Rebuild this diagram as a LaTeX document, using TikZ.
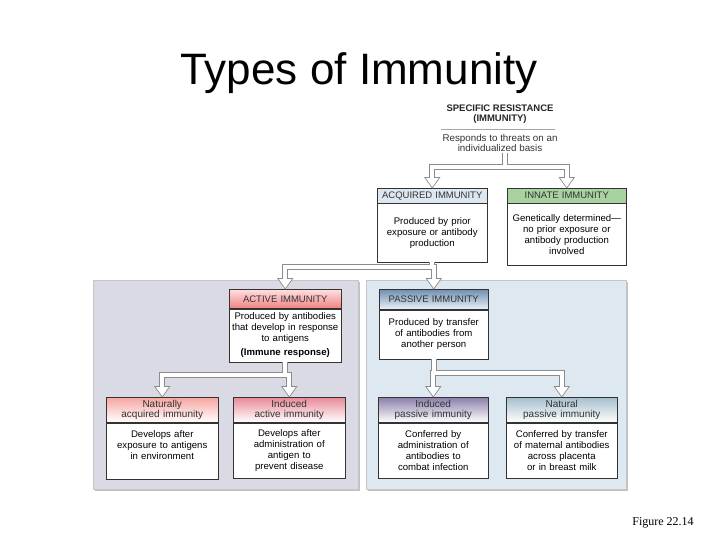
\documentclass[tikz,border=0pt]{standalone}
\usepackage{fontspec}
\setmainfont{Liberation Sans}
\newfontfamily\capfont{Liberation Serif}
\usepackage{tikz}
\usetikzlibrary{positioning,shadows}

\definecolor{acqblue}{RGB}{221,231,240}
\definecolor{inngreen}{RGB}{168,210,160}
\definecolor{actred}{RGB}{240,130,130}
\definecolor{pasblue}{RGB}{110,142,176}
\definecolor{natpink}{RGB}{246,165,160}
\definecolor{indpink}{RGB}{232,138,152}
\definecolor{ipurple}{RGB}{140,126,170}
\definecolor{ngray}{RGB}{165,190,205}
\definecolor{leftbg}{RGB}{218,218,228}
\definecolor{rightbg}{RGB}{221,232,240}
\definecolor{pipegray}{RGB}{140,140,140}

% hollow two-way connector: source, bar, left target, right target
\newcommand{\splitpipe}[4]{%
  \draw[pipeout] (#1) -- (#1 |- #2)
    ([yshift=9pt]#3) -- (#3 |- #2) -- (#4 |- #2) -- ([yshift=9pt]#4);
  \draw[head] (#3) -- ++(-7.5,10.5) -- ++(15,0) -- cycle;
  \draw[head] (#4) -- ++(-7.5,10.5) -- ++(15,0) -- cycle;
  \draw[pipein] ([yshift=-0.4pt]#1) -- (#1 |- #2)
    ([yshift=10.1pt]#3) -- (#3 |- #2) -- (#4 |- #2) -- ([yshift=10.1pt]#4);
}

\begin{document}
\begin{tikzpicture}[x=1pt, y=1pt,
  hdr/.style={draw=black!80, line width=0.5pt, inner sep=0pt, align=center,
              text=black!80, font=\fontsize{9.5}{10.5}\selectfont, anchor=north west},
  txt/.style={draw=black!80, line width=0.5pt, fill=white, inner sep=0pt,
              align=center, font=\fontsize{9.6}{11}\selectfont},
  panel/.style={draw=gray!45, line width=0.5pt,
                drop shadow={shadow xshift=1.5pt, shadow yshift=-1.5pt,
                             fill=gray!70, opacity=0.7}},
  pipeout/.style={draw=pipegray, line width=6pt, line join=miter},
  pipein/.style={draw=white, line width=4.4pt, line join=miter},
  head/.style={draw=pipegray, fill=white, line width=0.7pt, line join=miter},
  ]
  \useasboundingbox (0,0) rectangle (720,-540);

  % backgrounds
  \path[panel, fill=leftbg] (93,-280) rectangle (358,-489);
  \path[panel, fill=rightbg] (366,-280) rectangle (626,-489);

  \node[font=\fontsize{44}{50}\selectfont, anchor=base] (title) at (359,-85) {Types of Immunity};

  \node[font=\bfseries\fontsize{9.5}{10.5}\selectfont, align=center, text=black!85]
        (spec) at (500,-114) {SPECIFIC RESISTANCE\\(IMMUNITY)};
  \draw[gray!70, line width=0.5pt] (441,-129) -- (555,-129);
  \node[font=\fontsize{9.8}{10.5}\selectfont, align=center, inner sep=1pt, text=black!80]
        (resp) at (500,-143) {Responds to threats on an\\individualized basis};
  \coordinate (s1) at ([xshift=5pt]resp.south);

  % second row
  \node[hdr, fill=acqblue, text width=110pt, minimum height=15pt] (acq) at (377,-188)
        {ACQUIRED IMMUNITY};
  \node[txt, text width=110pt, minimum height=58pt, below=0pt of acq] (acqb)
        {Produced by prior\\exposure or antibody\\production};
  \node[hdr, fill=inngreen, text width=119pt, minimum height=15pt] (inn) at (507,-188)
        {INNATE IMMUNITY};
  \node[txt, text width=119pt, minimum height=61pt, below=0pt of inn] (innb)
        {Genetically determined---\\no prior exposure or\\antibody production\\involved};

  % third row
  \node[hdr, top color=red!12, bottom color=actred, text width=112pt, minimum height=19pt]
        (act) at (229,-289) {ACTIVE IMMUNITY};
  \node[txt, text width=112pt, minimum height=53pt, below=0pt of act] (actb)
        {Produced by antibodies\\that develop in response\\to antigens\\[3pt]\textbf{(Immune response)}};
  \node[hdr, top color=pasblue, bottom color=acqblue!60, text width=109pt, minimum height=20pt]
        (pas) at (379,-289) {PASSIVE IMMUNITY};
  \node[txt, text width=109pt, minimum height=49pt, below=0pt of pas] (pasb)
        {Produced by transfer\\of antibodies from\\another person};

  % fourth row
  \node[hdr, top color=natpink, bottom color=white, text width=112pt, minimum height=25pt,
        font=\fontsize{10}{10.5}\selectfont]
        (nai) at (106,-397) {Naturally\\acquired immunity};
  \node[txt, text width=112pt, minimum height=56pt, text depth=34pt, below=0pt of nai] (naib)
        {Develops after\\exposure to antigens\\in environment};
  \node[hdr, top color=indpink, bottom color=white, text width=112pt, minimum height=25pt,
        font=\fontsize{10}{10.5}\selectfont]
        (iai) at (233,-397) {Induced\\active immunity};
  \node[txt, text width=112pt, minimum height=55pt, below=0pt of iai] (iaib)
        {Develops after\\administration of\\antigen to\\prevent disease};
  \node[hdr, top color=ipurple, bottom color=white, text width=110pt, minimum height=25pt,
        font=\fontsize{10}{10.5}\selectfont]
        (ipi) at (378,-397) {Induced\\passive immunity};
  \node[txt, text width=110pt, minimum height=55pt, below=0pt of ipi] (ipib)
        {Conferred by\\administration of\\antibodies to\\combat infection};
  \node[hdr, top color=ngray, bottom color=white, text width=111pt, minimum height=25pt,
        font=\fontsize{10}{10.5}\selectfont]
        (npi) at (506,-397) {Natural\\passive immunity};
  \node[txt, text width=111pt, minimum height=55pt, below=0pt of npi] (npib)
        {Conferred by transfer\\of maternal antibodies\\across placenta\\or in breast milk};

  \node[font=\capfont\fontsize{12}{14}\selectfont, anchor=base] (fig) at (663,-525) {Figure 22.14};

  % connectors
  \coordinate (bar1) at (0,-167);
  \coordinate (bar2) at (0,-267);
  \coordinate (bar3) at (0,-375);
  \coordinate (bar4) at (0,-373);
  \splitpipe{s1}{bar1}{acq.north}{inn.north}
  \splitpipe{acqb.south}{bar2}{act.north}{pas.north}
  \splitpipe{actb.south}{bar3}{nai.north}{iai.north}
  \splitpipe{pasb.south}{bar4}{ipi.north}{npi.north}
\end{tikzpicture}
\end{document}
